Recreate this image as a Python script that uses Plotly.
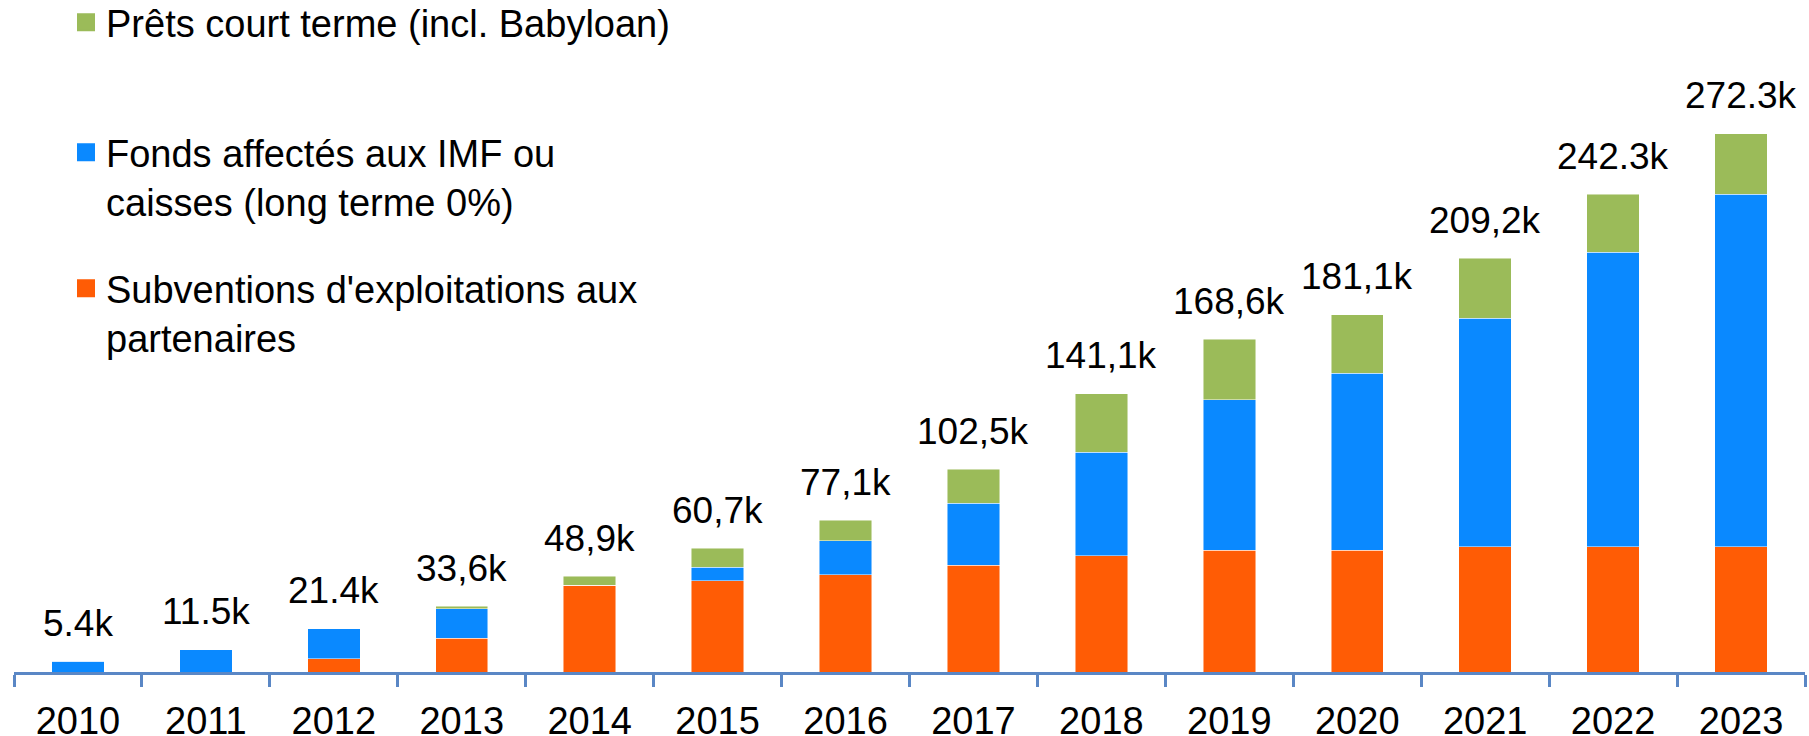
import plotly.graph_objects as go

years = ["2010", "2011", "2012", "2013", "2014", "2015", "2016",
         "2017", "2018", "2019", "2020", "2021", "2022", "2023"]

# values in thousands (k)
subventions = [0, 0, 6.7, 17.0, 44.0, 46.2, 49.2, 53.9, 58.8, 61.6, 61.6, 63.5, 63.5, 63.5]
fonds_imf = [5.5, 11.3, 15.1, 15.1, 0, 6.7, 17.1, 31.5, 52.4, 76.2, 89.5, 115.4, 148.9, 178.2]
prets_ct = [0, 0, 0, 1.2, 4.4, 9.8, 10.5, 17.2, 29.6, 30.6, 29.8, 30.6, 29.5, 30.6]

total_labels = ["5.4k", "11.5k", "21.4k", "33,6k", "48,9k", "60,7k", "77,1k",
                "102,5k", "141,1k", "168,6k", "181,1k", "209,2k", "242.3k", "272.3k"]

name_prets = "Prêts court terme (incl. Babyloan)"
name_fonds = "Fonds affectés aux IMF ou<br>caisses (long terme 0%)"
name_subv = "Subventions d'exploitations aux<br>partenaires"

C_ORANGE = "#FF5C05"
C_BLUE = "#0A89FF"
C_GREEN = "#9BBB59"
C_AXIS = "#5A87C5"
FONT = "Liberation Sans, Arial, sans-serif"
FS = 37
FS_TICK = 38
FS_LEG = 38

W, H = 1809, 736
ML, MR, MT, MB = 14, 4, 60, 64
PH = H - MT - MB

fig = go.Figure()
line = dict(width=0.8, color="rgba(255,255,255,0.6)")
series = [
    (subventions, name_subv, C_ORANGE, "legend3"),
    (fonds_imf, name_fonds, C_BLUE, "legend2"),
    (prets_ct, name_prets, C_GREEN, "legend"),
]
for vals, name, color, leg in series:
    fig.add_trace(go.Bar(x=years, y=vals, name=name, marker=dict(color=color, line=line),
                         showlegend=False, legendgroup=name))
for vals, name, color, leg in series:
    # legend entry (square key) for the series above
    fig.add_trace(go.Scatter(x=[None], y=[None], mode="markers", name=name, legend=leg,
                             legendgroup=name, showlegend=True,
                             marker=dict(symbol="square", size=16, color=color,
                                         line=dict(width=2, color=color))))

totals = [a + b + c for a, b, c in zip(subventions, fonds_imf, prets_ct)]
for i, (tot, lab) in enumerate(zip(totals, total_labels)):
    fig.add_annotation(x=i, y=tot, xref="x", yref="y", text=lab, showarrow=False,
                       xanchor="center", yanchor="middle", yshift=38,
                       font=dict(family=FONT, size=FS, color="black"))

def py(px):
    # pixel row (from top) -> paper y
    return (H - MB - px) / PH

def px_x(px):
    return (px - ML) / (W - ML - MR)

leg_common = dict(xanchor="left", yanchor="top", valign="top", xref="paper", yref="paper",
                  bgcolor="rgba(0,0,0,0)", borderwidth=0, itemsizing="trace",
                  font=dict(family=FONT, size=FS_LEG, color="black"),
                  itemclick=False, itemdoubleclick=False)
fig.update_layout(
    width=W, height=H,
    margin=dict(l=ML, r=MR, t=MT, b=MB, autoexpand=False),
    barmode="stack", bargap=0.59,
    plot_bgcolor="white", paper_bgcolor="white",
    hovermode=False, showlegend=True,
    font=dict(family=FONT, size=FS, color="black"),
    legend=dict(x=px_x(66), y=py(-9), **leg_common),
    legend2=dict(x=px_x(66), y=py(121), **leg_common),
    legend3=dict(x=px_x(66), y=py(257), **leg_common),
    xaxis=dict(type="category", range=[-0.5, 13.5], showline=True, linecolor=C_AXIS, linewidth=3,
               ticks="outside", tickson="boundaries", ticklen=12, tickwidth=3, tickcolor=C_AXIS,
               tickangle=0, ticklabelstandoff=13, automargin=False,
               showgrid=False, zeroline=False,
               tickfont=dict(family=FONT, size=FS_TICK, color="black")),
    yaxis=dict(range=[0, PH / 1.976], visible=False, showgrid=False, zeroline=False,
               automargin=False),
)

fig.write_html("out.html", config={"displayModeBar": False, "staticPlot": True},
               post_script="document.body.style.margin='0px';document.body.style.overflow='hidden';")
